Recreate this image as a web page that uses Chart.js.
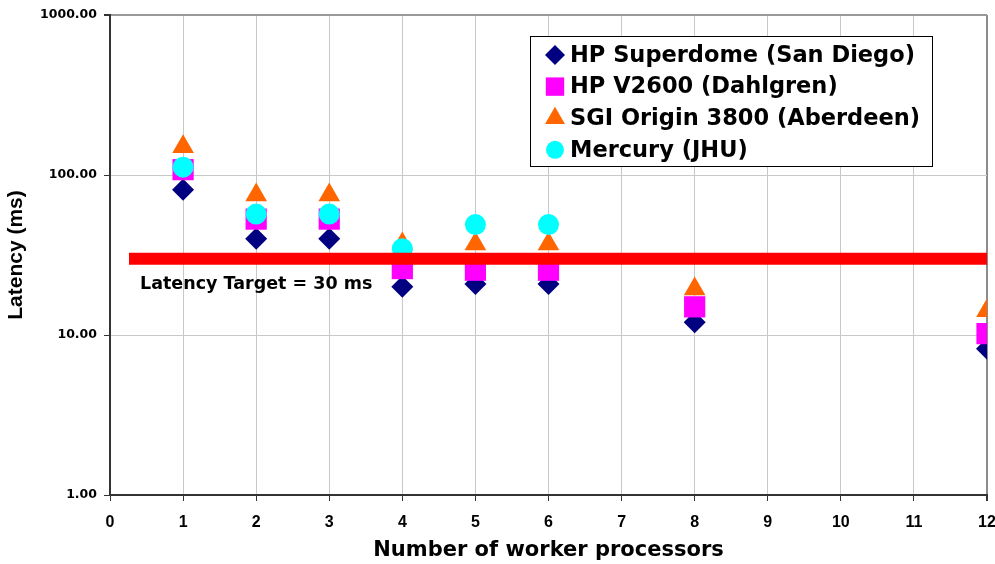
<!DOCTYPE html>
<html><head><meta charset="utf-8">
<script src="https://cdn.jsdelivr.net/npm/chart.js@4/dist/chart.umd.min.js"></script>
<style>html,body{margin:0;padding:0;background:#fff;}canvas{display:block}</style>
</head><body>
<canvas id="c" width="995" height="564"></canvas>
<script>
// ---- data ----
const processors = [1, 2, 3, 4, 5, 6, 8, 12];
const superdome  = [81, 40, 40, 20, 20.8, 20.8, 12, 8.2];
const v2600      = [108, 53, 53, 26, 25.4, 25.4, 15, 10.2];
const origin3800 = [150, 75, 75, 37, 37, 37, 19.4, 14.2];
const mercuryProcessors = [1, 2, 3, 4, 5, 6];
const mercury    = [112, 57, 57, 34.6, 49, 49];
const seriesNames = ['HP Superdome (San Diego)', 'HP V2600 (Dahlgren)', 'SGI Origin 3800 (Aberdeen)', 'Mercury (JHU)'];
const yTickValues = [1, 10, 100, 1000];
const xTickValues = [0,1,2,3,4,5,6,7,8,9,10,11,12];
const targetLatency = 30;
const targetSpan = [0.26, 12];
const targetLabel = 'Latency Target = 30 ms';
const xTitle = 'Number of worker processors';
const yTitle = 'Latency (ms)';

const pts = (xs, ys) => xs.map((x, i) => ({x: x, y: ys[i]}));

const legendPlugin = {
  id: 'boxLegend',
  afterDraw(chart) {
    const ctx = chart.ctx;
    const items = chart.data.datasets.filter(d => d.inLegend).sort((a,b)=>a.legendIndex-b.legendIndex);
    const x0 = 530, y0 = 36, w = 402, h = 130, firstY = 55, row = 31.6;
    ctx.save();
    ctx.fillStyle = '#fff';
    ctx.fillRect(x0, y0, w, h);
    ctx.strokeStyle = '#000';
    ctx.lineWidth = 1;
    ctx.strokeRect(x0 + 0.5, y0 + 0.5, w, h);
    items.forEach((d, i) => {
      const y = firstY + i * row;
      ctx.fillStyle = d.backgroundColor;
      ctx.strokeStyle = d.backgroundColor;
      Chart.helpers.drawPoint(ctx, {pointStyle: d.pointStyle, radius: d.legendRadius, borderWidth: 0, rotation: 0}, 555, y);
      ctx.fillStyle = '#000';
      ctx.font = 'bold 22.5px "DejaVu Sans"';
      ctx.textBaseline = 'middle';
      ctx.textAlign = 'left';
      ctx.fillText(d.label, 570, y + 1);
    });
    ctx.restore();
  }
};

const targetTextPlugin = {
  id: 'targetText',
  afterDatasetsDraw(chart) {
    const ctx = chart.ctx;
    const xs = chart.scales.x, ys = chart.scales.y;
    ctx.save();
    ctx.fillStyle = '#000';
    ctx.font = 'bold 17.5px "DejaVu Sans"';
    ctx.textBaseline = 'alphabetic';
    ctx.textAlign = 'left';
    ctx.fillText(targetLabel, xs.getPixelForValue(targetSpan[0]) + 11, ys.getPixelForValue(targetLatency) + 30);
    ctx.restore();
  }
};

new Chart(document.getElementById('c'), {
  type: 'scatter',
  data: {
    datasets: [
      { type: 'line', label: 'target', data: pts(targetSpan, [targetLatency, targetLatency]),
        borderColor: '#FF0000', borderWidth: 12, pointRadius: 0, borderCapStyle: 'butt', order: 0, fill: false },
      { label: seriesNames[3], data: pts(mercuryProcessors, mercury), pointStyle: 'circle', radius: 10.5,
        backgroundColor: '#00FFFF', borderWidth: 0, order: 1, inLegend: true, legendIndex: 3, legendRadius: 9 },
      { label: seriesNames[2], data: pts(processors, origin3800), pointStyle: 'triangle', radius: 12.5,
        backgroundColor: '#FF6600', borderWidth: 0, order: 2, inLegend: true, legendIndex: 2, legendRadius: 11.5 },
      { label: seriesNames[1], data: pts(processors, v2600), pointStyle: 'rect', radius: 15,
        backgroundColor: '#FF00FF', borderWidth: 0, order: 3, inLegend: true, legendIndex: 1, legendRadius: 13 },
      { label: seriesNames[0], data: pts(processors, superdome), pointStyle: 'rectRot', radius: 11,
        backgroundColor: '#000080', borderWidth: 0, order: 4, inLegend: true, legendIndex: 0, legendRadius: 10 }
    ]
  },
  options: {
    responsive: false,
    animation: false,
    layout: { autoPadding: false, padding: { left: 0, right: 8, top: 15, bottom: 0 } },
    plugins: { legend: { display: false }, tooltip: { enabled: false } },
    scales: {
      x: {
        type: 'linear', min: 0, max: 12,
        afterBuildTicks: s => { s.ticks = xTickValues.map(v => ({value: v})); },
        afterFit: s => { s.height = 69; s.paddingLeft = 0; s.paddingRight = 0; },
        ticks: { color: '#000', font: { family: '"Liberation Sans", Arial', weight: 'bold', size: 16 }, padding: 12, maxRotation: 0, autoSkip: false },
        grid: {
          color: c => c.tick && c.tick.value === 12 ? '#8c8c8c' : '#c8c8c8',
          lineWidth: c => c.tick && c.tick.value === 12 ? 2 : 1,
          tickColor: '#333', tickLength: 6, drawTicks: true
        },
        border: { color: '#333', width: 2 },
        title: { display: true, text: xTitle, color: '#000', font: { family: '"DejaVu Sans"', weight: 'bold', size: 21 }, padding: { top: 0, bottom: 1 } }
      },
      y: {
        type: 'logarithmic', min: 1, max: 1000,
        afterBuildTicks: s => { s.ticks = yTickValues.map(v => ({value: v})); },
        afterFit: s => { s.width = 110; s.paddingTop = 0; s.paddingBottom = 0; },
        ticks: { color: '#000', font: { family: '"DejaVu Sans"', weight: 'bold', size: 12.5 }, padding: 7,
          callback: v => Number(v).toFixed(2) },
        grid: {
          color: c => c.tick && c.tick.value === 1000 ? '#999' : '#c8c8c8',
          lineWidth: c => c.tick && c.tick.value === 1000 ? 2 : 1,
          tickColor: '#333', tickLength: 6, drawTicks: true
        },
        border: { color: '#333', width: 2 },
        title: { display: true, text: yTitle, color: '#000', font: { family: '"Liberation Sans", Arial', weight: 'bold', size: 21 }, padding: { top: 4, bottom: 0 } }
      }
    }
  },
  plugins: [targetTextPlugin, legendPlugin]
});
</script>
</body></html>
